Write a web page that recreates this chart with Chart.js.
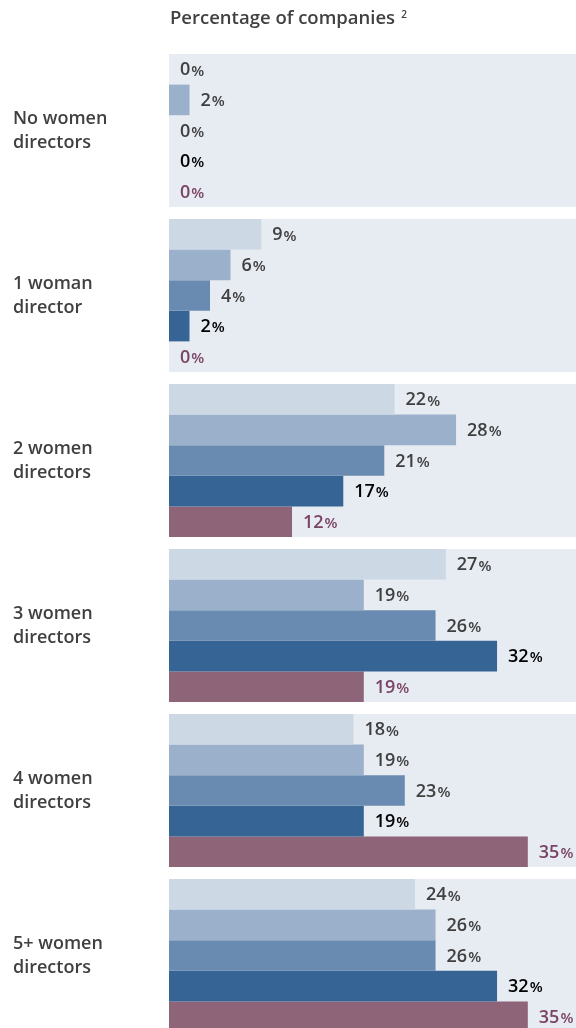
<!DOCTYPE html>
<html>
<head>
<meta charset="utf-8">
<script src="https://cdn.jsdelivr.net/npm/chart.js@4.4.0/dist/chart.umd.min.js"></script>
<style>
    html, body { margin: 0; padding: 0; background: #ffffff; overflow: hidden; }
    #graphique-administrateurs { display: block; }
</style>
</head>
<body>
<canvas id="graphique-administrateurs" width="576" height="1040"></canvas>
<script>
// data
const categories = [
    ["No women", "directors"],
    ["1 woman", "director"],
    ["2 women", "directors"],
    ["3 women", "directors"],
    ["4 women", "directors"],
    ["5+ women", "directors"]
];
const seriesNames = ["Series 1", "Series 2", "Series 3", "Series 4", "Series 5"];
const serie1 = [0, 9, 22, 27, 18, 24];
const serie2 = [2, 6, 28, 19, 19, 26];
const serie3 = [0, 4, 21, 26, 23, 26];
const serie4 = [0, 2, 17, 32, 19, 32];
const serie5 = [0, 0, 12, 19, 35, 35];
const titleText = "Percentage of companies";

const barColors = ['#cdd8e5', '#9bb1cb', '#6a8bb1', '#366495', '#8e6479'];
const labelColors = ['#404040', '#404040', '#404040', '#000000', '#7a4466'];
const panelColor = '#e7ebf2';
const catPct = 0.927;

const panelsPlugin = {
    id: 'panels',
    beforeDatasetsDraw(chart) {
        const ctx = chart.ctx;
        const yScale = chart.scales.y;
        const area = chart.chartArea;
        const step = (area.bottom - area.top) / categories.length;
        const half = step * catPct / 2;
        ctx.save();
        ctx.fillStyle = panelColor;
        categories.forEach((c, i) => {
            const yc = yScale.getPixelForValue(i);
            ctx.fillRect(area.left, yc - half, chart.width - area.left, half * 2);
        });
        ctx.restore();
    }
};

const labelsPlugin = {
    id: 'valueLabels',
    afterDatasetsDraw(chart) {
        const ctx = chart.ctx;
        ctx.save();
        ctx.textBaseline = 'middle';
        ctx.textAlign = 'left';
        chart.data.datasets.forEach((ds, di) => {
            const meta = chart.getDatasetMeta(di);
            meta.data.forEach((bar, i) => {
                const txt = String(ds.data[i]);
                const x = bar.x + 11;
                const y = bar.y + 1;
                ctx.fillStyle = labelColors[di];
                ctx.font = '600 18px "Open Sans"';
                ctx.fillText(txt, x, y);
                const w = ctx.measureText(txt).width;
                ctx.font = '600 15px "Open Sans"';
                ctx.fillText('%', x + w + 1, y + 1);
            });
        });
        // title above the panels
        ctx.fillStyle = '#404040';
        ctx.font = '600 18.5px "Open Sans"';
        ctx.fillText(titleText, 170, 19);
        const tw = ctx.measureText(titleText).width;
        ctx.font = '600 10px "Open Sans"';
        ctx.fillText('2', 170 + tw + 6, 15);
        ctx.restore();
    }
};

const ctx = document.getElementById("graphique-administrateurs").getContext("2d");
const datasets = [serie1, serie2, serie3, serie4, serie5].map((values, i) => ({
    label: seriesNames[i],
    data: values,
    backgroundColor: barColors[i],
    borderWidth: 0,
    categoryPercentage: catPct,
    barPercentage: 1
}));

window.myChartAdministrateurs = new Chart(ctx, {
    type: 'bar',
    data: {
        labels: categories,
        datasets: datasets
    },
    options: {
        indexAxis: 'y',
        responsive: false,
        animation: false,
        devicePixelRatio: 1,
        layout: {
            padding: { top: 48, left: 13, right: 0, bottom: 2 }
        },
        plugins: {
            legend: { display: false },
            tooltip: { enabled: false }
        },
        scales: {
            x: {
                display: false,
                min: 0,
                max: 39.7
            },
            y: {
                grid: { display: false },
                border: { display: false },
                ticks: {
                    crossAlign: 'far',
                    color: '#404040',
                    padding: 0,
                    font: {
                        family: '"Open Sans"',
                        size: 18,
                        weight: '600',
                        lineHeight: 1.33
                    }
                },
                afterFit(scale) {
                    scale.width = 156;
                    // no extra room for the half labels at top and bottom
                    scale.paddingTop = 0;
                    scale.paddingBottom = 0;
                }
            }
        }
    },
    plugins: [panelsPlugin, labelsPlugin]
});
</script>
</body>
</html>
